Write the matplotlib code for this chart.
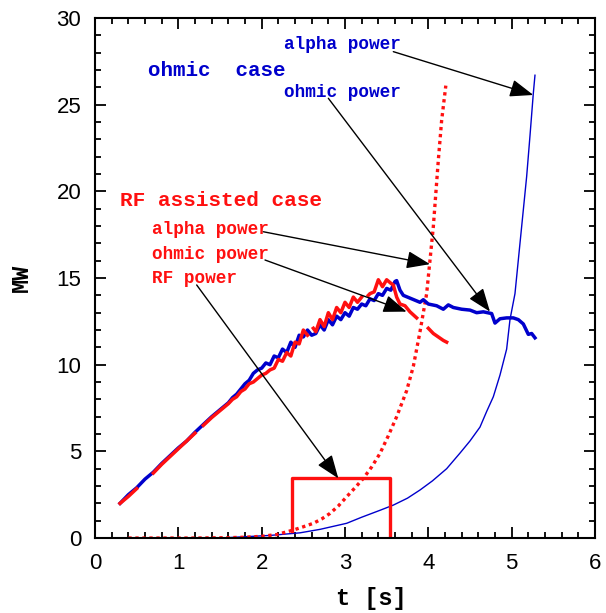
import numpy as np
import matplotlib.pyplot as plt

nan = np.nan

# ohmic case: ohmic power (thick blue)
blue_ohm_t = [0.30, 0.40, 0.50, 0.60, 0.70, 0.80, 0.90, 1.00, 1.10, 1.20, 1.30, 1.40, 1.50,
              1.60, 1.65, 1.70, 1.75, 1.80, 1.85, 1.90, 1.95, 2.00, 2.05, 2.10, 2.15, 2.20,
              2.25, 2.30, 2.35, 2.40, 2.45, 2.50, 2.55, 2.60, 2.65, 2.70, 2.75, 2.80, 2.85,
              2.90, 2.95, 3.00, 3.05, 3.10, 3.15, 3.20, 3.25, 3.30, 3.35, 3.40, 3.45, 3.50,
              3.55, 3.60, 3.62, 3.66, 3.70, 3.80, 3.90, 3.94, 4.00, 4.10, 4.18, 4.24, 4.30,
              4.40, 4.50, 4.58, 4.66, 4.76, 4.80, 4.86, 4.94, 5.02, 5.08, 5.14, 5.20, 5.24, 5.28]
blue_ohm_p = [2.0, 2.5, 2.9, 3.4, 3.8, 4.3, 4.75, 5.2, 5.6, 6.1, 6.55, 7.0, 7.4,
              7.8, 8.1, 8.3, 8.6, 8.9, 9.1, 9.5, 9.7, 9.8, 10.1, 10.0, 10.5, 10.4,
              10.9, 10.7, 11.3, 11.0, 11.7, 11.6, 12.0, 11.7, 11.8, 12.3, 12.0, 12.6, 12.3,
              12.8, 12.6, 13.0, 12.8, 13.3, 13.2, 13.5, 13.4, 13.8, 13.7, 14.1, 14.0, 14.4,
              14.3, 14.8, 14.85, 14.3, 14.0, 13.8, 13.6, 13.75, 13.5, 13.4, 13.2, 13.45, 13.3,
              13.2, 13.15, 13.0, 13.05, 12.95, 12.4, 12.65, 12.7, 12.7, 12.6, 12.35, 11.75, 11.8, 11.55]

# ohmic case: alpha power (thin blue)
blue_alpha_t = [1.50, 1.70, 1.90, 2.10, 2.22, 2.46, 2.70, 3.02, 3.20, 3.42, 3.58, 3.75, 3.90,
                4.05, 4.22, 4.38, 4.50, 4.62, 4.70, 4.78, 4.86, 4.94, 4.98, 5.04, 5.10, 5.18,
                5.22, 5.26, 5.28]
blue_alpha_p = [0.0, 0.05, 0.1, 0.15, 0.2, 0.3, 0.5, 0.85, 1.2, 1.6, 1.9, 2.3, 2.77,
                3.3, 4.0, 4.9, 5.6, 6.4, 7.3, 8.15, 9.4, 10.9, 12.6, 14.1, 17.0, 20.85,
                23.2, 25.65, 26.7]

# RF assisted case: ohmic power (thick red), nan = data gaps
red_ohm_t = [0.30, 0.40, 0.50, 0.62, 0.70, 0.80, 0.90, 1.00, 1.10, 1.20, 1.26, 1.30, 1.40,
             1.50, 1.60, 1.65, 1.70, 1.75, 1.80, 1.85, 1.90, 1.95, 2.00, 2.05, 2.10, 2.15,
             2.20, 2.25, 2.30, 2.35, 2.40, 2.45, 2.50, 2.55, 2.58, 2.62, 2.65, 2.70, 2.75,
             2.80, 2.85, 2.90, 2.95, 3.00, 3.05, 3.10, 3.15, 3.20, 3.24, 3.28, 3.30, 3.35,
             3.40, 3.45, 3.50, 3.55, 3.58, 3.62, 3.66, 3.72, 3.78, 3.86, 3.92, 4.00, 4.06,
             4.12, 4.18, 4.22]
red_ohm_p = [2.0, 2.4, 2.85, nan, 3.75, 4.25, 4.7, 5.15, 5.6, 6.05, nan, 6.5, 6.95,
             7.35, 7.75, 8.0, 8.15, 8.45, 8.6, 8.9, 9.0, 9.2, 9.4, 9.5, 9.7, 9.8,
             10.3, 10.2, 10.7, 10.5, 11.3, 11.2, 12.0, 11.7, nan, 12.1, 11.9, 12.6, 12.2,
             13.0, 12.6, 13.3, 13.0, 13.6, 13.3, 13.9, 13.6, 13.9, nan, 14.0, 14.1, 14.2,
             14.9, 14.5, 14.9, 14.7, 14.6, 13.9, 13.5, 13.4, 13.05, 12.7, nan, 12.1, 11.8,
             11.6, 11.4, 11.3]

# RF assisted case: alpha power (dotted red)
red_alpha_t = [0.40, 0.80, 1.20, 1.60, 1.82, 2.00, 2.18, 2.38, 2.50, 2.62, 2.72, 2.82, 2.92,
               3.02, 3.12, 3.22, 3.32, 3.42, 3.52, 3.62, 3.74, 3.82, 3.90, 3.98, 4.06, 4.12,
               4.16, 4.21]
red_alpha_p = [0.0, 0.0, 0.0, 0.02, 0.05, 0.1, 0.2, 0.46, 0.65, 0.85, 1.1, 1.42, 1.85,
               2.38, 2.9, 3.44, 4.1, 4.88, 5.9, 7.0, 8.5, 9.9, 11.9, 14.1, 17.96, 21.8,
               24.1, 26.1]

# RF power (red step)
rf_t = [2.36, 2.36, 3.54, 3.54]
rf_p = [0.4, 3.45, 3.45, 0.0]

BLUE = '#0000cc'
RED = '#ff1010'
mono = 'Liberation Mono'

fig = plt.figure(figsize=(6.06, 6.13), dpi=100)
ax = fig.add_axes([0.1568, 0.1223, 0.8250, 0.8483])

ax.plot(blue_alpha_t, blue_alpha_p, color=BLUE, lw=1.0)
ax.plot(red_alpha_t, red_alpha_p, color=RED, lw=2.4, linestyle=(0, (1, 1.1)))
ax.plot(rf_t, rf_p, color=RED, lw=2.4)
ax.plot(blue_ohm_t, blue_ohm_p, color=BLUE, lw=2.5)
ax.plot(red_ohm_t, red_ohm_p, color=RED, lw=2.5)

ax.set_xlim(0, 6)
ax.set_ylim(0, 30)
ax.set_xticks(np.arange(0, 7, 1))
ax.set_yticks(np.arange(0, 31, 5))
ax.set_xticks(np.arange(0, 6.01, 0.2), minor=True)
ax.set_yticks(np.arange(0, 31, 1), minor=True)
ax.tick_params(which='both', direction='in', top=True, right=True, width=1.3)
ax.tick_params(which='major', length=8, labelsize=16)
ax.tick_params(axis='x', which='major', pad=11)
ax.tick_params(axis='y', which='major', pad=10)
ax.tick_params(which='minor', length=4)
for lab in ax.get_xticklabels() + ax.get_yticklabels():
    lab.set_family('Liberation Sans')
for s in ax.spines.values():
    s.set_linewidth(1.5)

ax.set_xlabel('t [s]', family=mono, fontweight='bold', fontsize=17)
ax.set_ylabel('MW', family=mono, fontweight='bold', fontsize=17)
ax.xaxis.set_label_coords(0.552, -0.094)
ax.yaxis.set_label_coords(-0.124, 0.5)

# labels
ax.text(0.64, 27.0, 'ohmic  case', color=BLUE, family=mono, fontweight='bold', fontsize=15, va='center')
ax.text(2.27, 28.5, 'alpha power', color=BLUE, family=mono, fontweight='bold', fontsize=12.8, va='center')
ax.text(2.27, 25.7, 'ohmic power', color=BLUE, family=mono, fontweight='bold', fontsize=12.8, va='center')
ax.text(0.30, 19.5, 'RF assisted case', color=RED, family=mono, fontweight='bold', fontsize=15.2, va='center')
ax.text(0.68, 17.8, 'alpha power', color=RED, family=mono, fontweight='bold', fontsize=12.8, va='center')
ax.text(0.68, 16.35, 'ohmic power', color=RED, family=mono, fontweight='bold', fontsize=12.8, va='center')
ax.text(0.68, 14.95, 'RF power', color=RED, family=mono, fontweight='bold', fontsize=12.8, va='center')

arrows = [((3.58, 28.06), (5.26, 25.56)),
          ((2.80, 25.37), (4.74, 13.06)),
          ((2.02, 17.67), (4.02, 15.8)),
          ((2.04, 16.04), (3.74, 13.06)),
          ((1.22, 14.6), (2.92, 3.44))]
for start, end in arrows:
    ax.annotate('', xy=end, xytext=start,
                arrowprops=dict(arrowstyle='-|>,head_length=0.8,head_width=0.3',
                                color='k', lw=1.0, mutation_scale=18,
                                shrinkA=0, shrinkB=0))

fig.savefig('out.png', dpi=100)
